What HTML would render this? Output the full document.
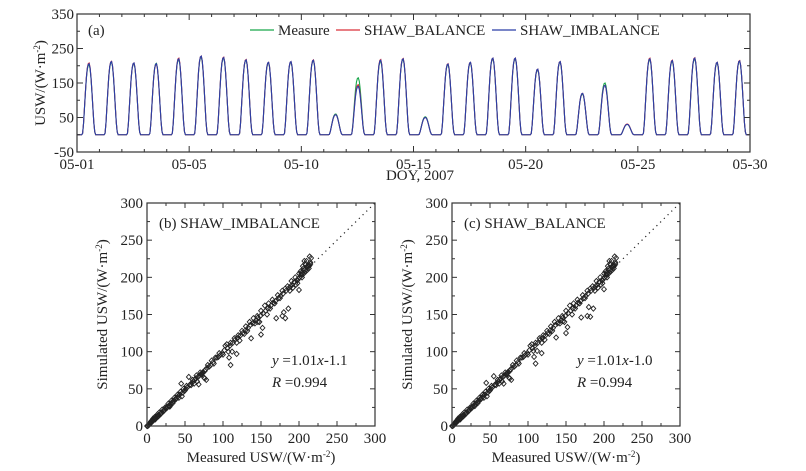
<!DOCTYPE html>
<html><head><meta charset="utf-8"><style>
html,body{margin:0;padding:0;background:#fff;}
svg{display:block;font-family:"Liberation Serif","Times New Roman",serif;}
</style></head><body>
<svg id="chart" width="806" height="471" viewBox="0 0 806 471"></svg>
<script>
// ---- data: time series (daily peak USW, W m-2) ----
const dayLabels=["05-01","05-05","05-10","05-15","05-20","05-25","05-30"];
const peakMeasure=[203,210,206,207,218,225,222,216,208,210,215,60,165,213,218,52,203,208,220,220,188,210,118,150,30,218,213,220,208,213];
const peakBalance=[208,213,208,205,222,228,225,218,210,212,217,58,145,218,221,50,206,210,222,222,190,212,120,143,31,222,216,223,210,215];
const peakImbalance=[206,212,208,206,220,228,224,217,210,212,216,58,140,216,220,50,205,210,222,222,190,212,120,143,30,220,215,222,210,214];
const diurnal=[0,0,0,0,0,0,0.02,0.16,0.38,0.6,0.8,0.93,0.99,1,0.94,0.8,0.6,0.38,0.17,0.04,0,0,0,0];
const topYTicks=[-50,50,150,250,350];
// ---- data: scatter ----
const measured=[0,1,2,3,4,5,6,7,8,9,10,11,12,13,14,15,16,18,20,22,24,26,28,30,32,34,36,38,40,42,44,45,46,48,50,52,55,58,60,62,65,68,70,72,75,78,80,85,88,90,95,100,103,105,108,110,110,112,115,118,120,122,125,128,130,132,135,137,140,142,145,148,150,150,152,155,158,160,162,165,168,170,172,175,178,178,180,182,182,185,186,188,190,192,195,198,200,200,202,204,205,206,208,210,210,212,214,215,216,30,66,76,118,107,146,196,207,
 3,5,7,9,11,13,15,17,19,21,23,25,27,29,31,33,35,37,39,41,43,47,49,51,53,56,57,59,61,63,64,67,69,71,73,74,76,77,79,82,84,87,92,94,97,99,102,106,109,113,116,119,123,126,129,133,136,139,143,146,149,153,156,159,163,166,169,173,176,179,183,187,189,191,194,197,199,201,203,207,209,211,213,214,215,212,208,205,203,198];
const simImbalance=[0,0,1,2,4,6,5,8,10,8,12,9,13,12,16,13,18,16,22,20,25,24,30,27,34,31,38,36,42,38,46,57,40,50,48,54,66,55,62,57,68,56,72,70,65,62,82,88,84,92,98,96,108,110,92,82,112,100,118,97,122,115,128,124,134,128,140,118,145,138,148,140,123,155,132,162,150,165,158,170,165,145,176,172,148,182,153,185,145,188,158,182,195,186,200,192,205,183,208,200,215,212,218,214,222,216,228,220,226,26,60,64,112,100,140,190,222,
 2,4,6,9,10,12,14,16,18,20,22,24,26,27,30,32,34,36,38,40,42,45,47,50,52,55,56,58,60,62,64,66,68,70,72,72,74,76,78,80,82,86,92,93,96,98,102,105,108,112,116,118,122,125,128,132,136,138,142,146,148,152,155,158,162,166,168,172,175,178,182,186,188,190,194,196,198,200,204,206,208,210,212,216,218,214,210,204,206,196];
const simBalance=[0,0,1,2,4,6,5,8,10,8,12,9,13,12,16,13,18,16,22,20,25,24,30,27,34,31,38,36,42,38,46,58,40,50,48,54,67,55,62,57,68,57,72,70,65,62,82,88,84,92,98,96,108,110,93,84,112,101,118,98,122,116,128,124,134,128,140,119,145,138,148,140,125,155,133,162,150,165,158,170,165,146,176,172,148,182,160,185,147,188,158,182,195,186,200,192,205,184,208,200,215,212,218,214,222,216,228,220,226,27,60,64,112,101,141,190,222,
 2,4,6,9,10,12,14,16,18,20,22,24,26,28,30,32,34,36,38,40,42,45,47,50,52,55,56,58,60,62,64,66,68,70,72,73,74,76,78,80,82,86,92,93,96,98,102,105,108,112,116,118,122,125,128,132,136,138,142,146,148,152,155,158,162,166,168,172,175,178,182,186,188,190,194,196,198,200,204,206,208,210,212,216,218,214,210,204,206,196];
const scatTicks=[0,50,100,150,200,250,300];

const svg=document.getElementById('chart');
const NS='http://www.w3.org/2000/svg';
function mk(tag,attrs,parent){const e=document.createElementNS(NS,tag);for(const k in attrs)e.setAttribute(k,attrs[k]);(parent||svg).appendChild(e);return e;}
function txt(s,x,y,size,anchor,parent){const t=mk('text',{x:x,y:y,'font-size':size,'text-anchor':anchor||'middle',fill:'#222'},parent);t.textContent=s;return t;}

// ---- top panel ----
const T={l:77,r:750,t:14,b:152};
const tx=d=>T.l+(T.r-T.l)*d/30;
const ty=v=>T.b-(v+50)*(T.b-T.t)/400;
const gTop=mk('g',{});


function seriesPath(peaks,color,name){
  let d='';
  peaks.forEach((p,k)=>{diurnal.forEach((f,h)=>{const x=tx(k+h/24),y=ty(p*f);d+=(d?'L':'M')+x.toFixed(2)+','+y.toFixed(2);});});
  const p=mk('path',{d:d,fill:'none',stroke:color,'stroke-width':1.1},gTop);
  
  
}
seriesPath(peakMeasure,'#19a64a','series-measure');
seriesPath(peakBalance,'#d9303a','series-shaw-balance');
seriesPath(peakImbalance,'#2a3fa8','series-shaw-imbalance');
mk('rect',{x:T.l,y:T.t,width:T.r-T.l,height:T.b-T.t,fill:'none',stroke:'#333','stroke-width':1.2},gTop);
for(let d=0;d<=30;d++){const x=tx(d);const L=d%5===0?6:3;
  mk('line',{x1:x,y1:T.b,x2:x,y2:T.b-L,stroke:'#333'},gTop);mk('line',{x1:x,y1:T.t,x2:x,y2:T.t+L,stroke:'#333'},gTop);}
dayLabels.forEach((s,i)=>{const t=txt(s,tx(i*5),169,15,'middle',gTop);});
for(let v=-50;v<=350;v+=50){const y=ty(v);const L=((v+50)%100===0)?6:3;
  mk('line',{x1:T.l,y1:y,x2:T.l+L,y2:y,stroke:'#333'},gTop);mk('line',{x1:T.r,y1:y,x2:T.r-L,y2:y,stroke:'#333'},gTop);}
topYTicks.forEach(v=>{const t=txt(String(v),T.l-3,ty(v)+5,15,'end',gTop);});
const yt=mk('text',{transform:'translate(45,83) rotate(-90)','font-size':15,'text-anchor':'middle',fill:'#222'},gTop);
yt.innerHTML='USW/(W·m<tspan dy="-5" font-size="9">-2</tspan><tspan dy="5">)</tspan>';

const xt=txt('DOY, 2007',420,180,15,'middle',gTop);
const pa=txt('(a)',88,35,15,'start',gTop);
[['Measure','#19a64a',250],['SHAW_BALANCE','#d9303a',336],['SHAW_IMBALANCE','#2a3fa8',492]].forEach(([n,c,x])=>{
  const g=mk('g',{},gTop);
  mk('line',{x1:x,y1:30,x2:x+24,y2:30,stroke:c,'stroke-width':1.2},g);txt(n,x+28,35,15,'start',g);});

// ---- scatter panels ----
function scatter(left,label,sim,eq,name){
  const S={l:left,r:left+228,t:203,b:426};
  const sx=v=>S.l+v/300*(S.r-S.l), sy=v=>S.b-v/300*(S.b-S.t);
  const g=mk('g',{});
  const one=mk('line',{x1:sx(0),y1:sy(0),x2:sx(300),y2:sy(300),stroke:'#222','stroke-width':1.2,'stroke-dasharray':'1.2,4'},g);
  
  measured.forEach((m,i)=>{const x=sx(m),y=sy(sim[i]);
    const p=mk('path',{d:`M${x},${y-2.6}L${x+2.4},${y}L${x},${y+2.6}L${x-2.4},${y}Z`,fill:'none',stroke:'#222','stroke-width':0.9},g);
    });
  mk('rect',{x:S.l,y:S.t,width:S.r-S.l,height:S.b-S.t,fill:'none',stroke:'#333','stroke-width':1.2},g);
  for(let v=0;v<=300;v+=25){const L=v%50===0?5:3;const x=sx(v),y=sy(v);
    mk('line',{x1:x,y1:S.b,x2:x,y2:S.b-L,stroke:'#333'},g);mk('line',{x1:x,y1:S.t,x2:x,y2:S.t+L,stroke:'#333'},g);
    mk('line',{x1:S.l,y1:y,x2:S.l+L,y2:y,stroke:'#333'},g);mk('line',{x1:S.r,y1:y,x2:S.r-L,y2:y,stroke:'#333'},g);}
  scatTicks.forEach(v=>{txt(String(v),sx(v),443,15,'middle',g);txt(String(v),S.l-4,sy(v)+5,15,'end',g);});
  const xa=mk('text',{x:(S.l+S.r)/2,y:462,'font-size':15,'text-anchor':'middle',fill:'#222'},g);
  xa.innerHTML='Measured USW/(W·m<tspan dy="-5" font-size="9">-2</tspan><tspan dy="5">)</tspan>';
  
  const ya=mk('text',{transform:`translate(${S.l-40},${(S.t+S.b)/2}) rotate(-90)`,'font-size':15,'text-anchor':'middle',fill:'#222'},g);
  ya.innerHTML='Simulated USW/(W·m<tspan dy="-5" font-size="9">-2</tspan><tspan dy="5">)</tspan>';
  
  const pl=txt(label,S.l+12,S.t+25,15,'start',g);
  const e1=mk('text',{x:S.l+125,y:S.t+162,'font-size':15,fill:'#222'},g);
  e1.innerHTML='<tspan font-style="italic">y</tspan> =1.01<tspan font-style="italic">x</tspan>-'+eq;
  
  const e2=mk('text',{x:S.l+125,y:S.t+184,'font-size':15,fill:'#222'},g);
  e2.innerHTML='<tspan font-style="italic">R</tspan> =0.994';
  
}
scatter(147,'(b) SHAW_IMBALANCE',simImbalance,'1.1','scatter-panel-imbalance');
scatter(452,'(c) SHAW_BALANCE',simBalance,'1.0','scatter-panel-balance');
</script>
</body></html>
